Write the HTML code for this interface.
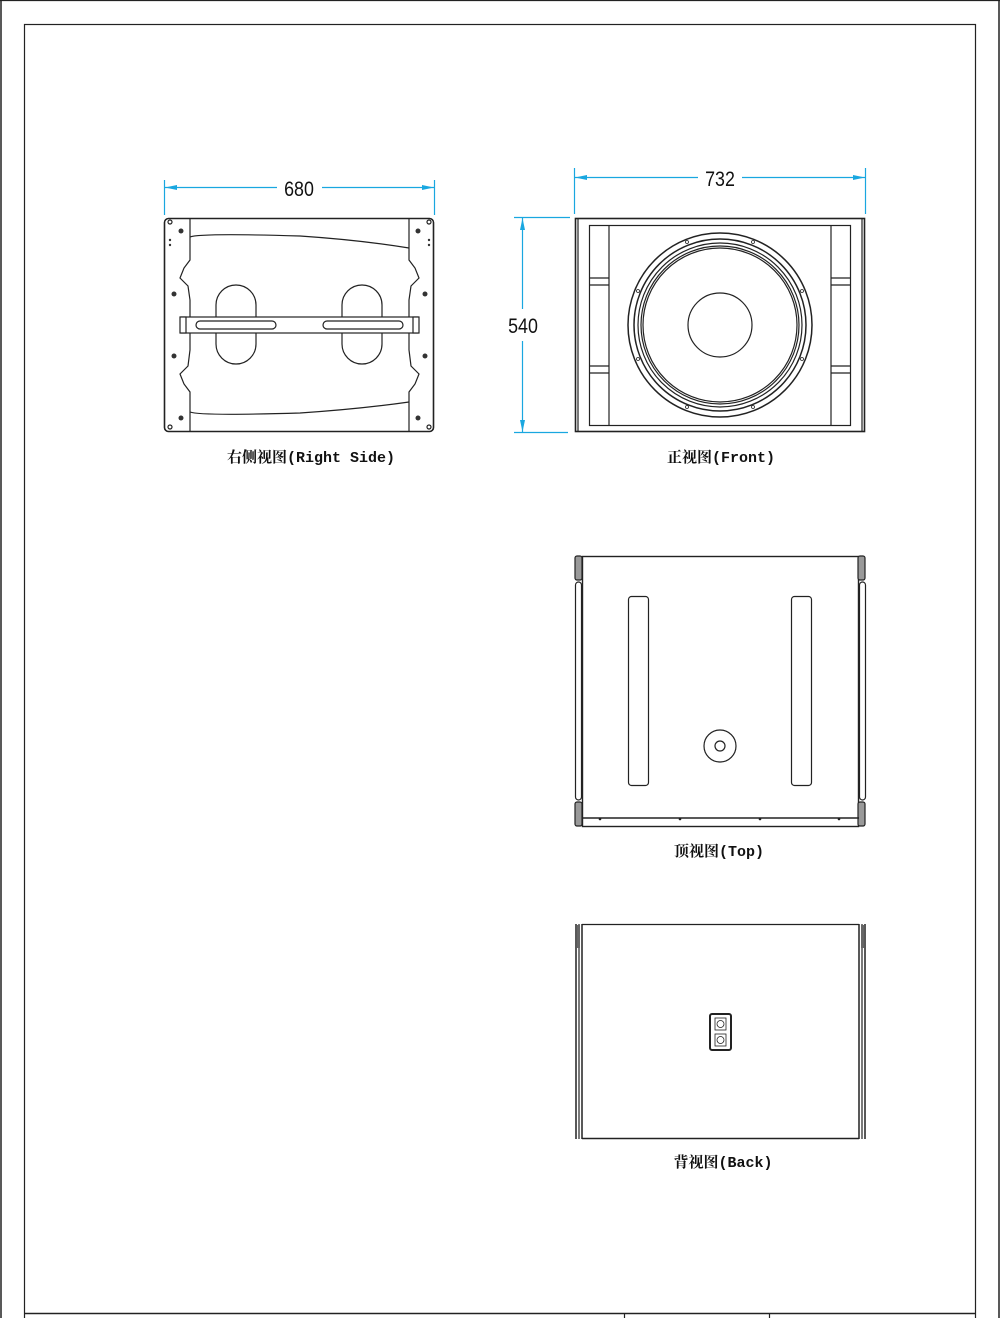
<!DOCTYPE html>
<html><head><meta charset="utf-8"><style>
html,body{margin:0;padding:0;background:#fff}
svg{display:block}
.l{font-family:"Liberation Mono","Noto Serif CJK SC",monospace;font-weight:bold;font-size:15px;fill:#111}
.d{font-family:"Liberation Sans",sans-serif;font-size:21px;fill:#111}
</style></head><body>
<svg width="1000" height="1318" viewBox="0 0 1000 1318" xmlns="http://www.w3.org/2000/svg">
<g fill="none" stroke="#222" stroke-width="1.2">
<line x1="0" y1="0.5" x2="1000" y2="0.5" stroke-width="1.2"/>
<line x1="1" y1="0" x2="1" y2="1318" stroke-width="1.5"/>
<line x1="999" y1="0" x2="999" y2="1318" stroke-width="1.5"/>
<rect x="24.5" y="24.5" width="951" height="1300" stroke-width="1.2"/>
<line x1="24" y1="1313.5" x2="976" y2="1313.5" stroke-width="1.5"/>
<line x1="624.5" y1="1313" x2="624.5" y2="1318"/>
<line x1="769.5" y1="1313" x2="769.5" y2="1318"/>

<!-- RIGHT SIDE -->
<rect x="164.5" y="218.5" width="269" height="213" rx="4" stroke-width="1.6"/>
<path d="M190 219 L190 260 L184 268 L180 278 L188 286 L190 300 L190 350 L188 366 L180 374 L184 384 L190 392 L190 431"/>
<path d="M409 219 L409 260 L415 268 L419 278 L411 286 L409 300 L409 350 L411 366 L419 374 L415 384 L409 392 L409 431"/>
<path d="M190 237 Q200 233 300 236 Q360 240 409 248"/>
<path d="M190 412 Q200 416 300 413 Q360 409 409 402"/>
<rect x="216" y="285" width="40" height="79" rx="20"/>
<rect x="342" y="285" width="40" height="79" rx="20"/>
<rect x="181" y="317" width="237" height="16" fill="#fff"/>
<rect x="196" y="321" width="80" height="8" rx="4"/>
<rect x="323" y="321" width="80" height="8" rx="4"/>
<rect x="180" y="317" width="6" height="16" fill="#fff"/>
<rect x="413" y="317" width="6" height="16" fill="#fff"/>
<g fill="#333" stroke="none">
<circle cx="181" cy="231" r="2.5"/><circle cx="418" cy="231" r="2.5"/>
<circle cx="174" cy="294" r="2.5"/><circle cx="425" cy="294" r="2.5"/>
<circle cx="174" cy="356" r="2.5"/><circle cx="425" cy="356" r="2.5"/>
<circle cx="181" cy="418" r="2.5"/><circle cx="418" cy="418" r="2.5"/>
<circle cx="170" cy="240" r="1.2"/><circle cx="170" cy="245" r="1.2"/>
<circle cx="429" cy="240" r="1.2"/><circle cx="429" cy="245" r="1.2"/>
</g>
<circle cx="170" cy="222" r="2"/><circle cx="429" cy="222" r="2"/>
<circle cx="170" cy="427" r="2"/><circle cx="429" cy="427" r="2"/>

<!-- FRONT -->
<rect x="575.5" y="218.5" width="289" height="213" stroke-width="1.6"/>
<line x1="578" y1="219" x2="578" y2="431"/><line x1="862" y1="219" x2="862" y2="431"/>
<rect x="589.5" y="225.5" width="261" height="200"/>
<line x1="609" y1="226" x2="609" y2="425"/><line x1="831" y1="226" x2="831" y2="425"/>
<line x1="589" y1="278" x2="609" y2="278"/><line x1="589" y1="285" x2="609" y2="285"/>
<line x1="589" y1="366" x2="609" y2="366"/><line x1="589" y1="373" x2="609" y2="373"/>
<line x1="831" y1="278" x2="851" y2="278"/><line x1="831" y1="285" x2="851" y2="285"/>
<line x1="831" y1="366" x2="851" y2="366"/><line x1="831" y1="373" x2="851" y2="373"/>
<circle cx="720" cy="325" r="92" stroke-width="1.5"/>
<circle cx="720" cy="325" r="86" stroke-width="1.5"/>
<circle cx="720" cy="325" r="82"/>
<circle cx="720" cy="325" r="79"/>
<circle cx="720" cy="325" r="77"/>
<circle cx="720" cy="325" r="32"/>
<g stroke-width="0.8">
<circle cx="687" cy="242" r="1.5"/><circle cx="753" cy="242" r="1.5"/>
<circle cx="638" cy="291" r="1.5"/><circle cx="802" cy="291" r="1.5"/>
<circle cx="638" cy="359" r="1.5"/><circle cx="802" cy="359" r="1.5"/>
<circle cx="687" cy="407" r="1.5"/><circle cx="753" cy="407" r="1.5"/>
</g>

<!-- TOP -->
<rect x="582.5" y="556.5" width="276" height="270" stroke-width="1.4"/>
<rect x="575" y="556" width="7" height="24" rx="2" fill="#999"/>
<rect x="858" y="556" width="7" height="24" rx="2" fill="#999"/>
<rect x="575" y="802" width="7" height="24" rx="2" fill="#999"/>
<rect x="858" y="802" width="7" height="24" rx="2" fill="#999"/>
<rect x="575.5" y="582" width="6" height="218" rx="3"/>
<rect x="859.5" y="582" width="6" height="218" rx="3"/>
<line x1="582" y1="818" x2="859" y2="818" stroke-width="1.5"/>
<rect x="628.5" y="596.5" width="20" height="189" rx="3"/>
<rect x="791.5" y="596.5" width="20" height="189" rx="3"/>
<circle cx="720" cy="746" r="16"/><circle cx="720" cy="746" r="5"/>
<g fill="#222" stroke="none"><circle cx="600" cy="819" r="1.3"/><circle cx="680" cy="819" r="1.3"/><circle cx="760" cy="819" r="1.3"/><circle cx="839" cy="819" r="1.3"/></g>

<!-- BACK -->
<line x1="582" y1="924.5" x2="859" y2="924.5"/>
<line x1="582" y1="1138.5" x2="859" y2="1138.5" stroke-width="1.5"/>
<line x1="576" y1="924" x2="576" y2="1139" stroke-width="1.5"/>
<line x1="579" y1="924" x2="579" y2="1139"/>
<line x1="582" y1="924" x2="582" y2="1139" stroke-width="1.5"/>
<line x1="859" y1="924" x2="859" y2="1139" stroke-width="1.5"/>
<line x1="862" y1="924" x2="862" y2="1139"/>
<line x1="865" y1="924" x2="865" y2="1139" stroke-width="1.5"/>
<rect x="577" y="925" width="3" height="23" fill="#666" stroke="none"/>
<rect x="861" y="925" width="3" height="23" fill="#666" stroke="none"/>
<rect x="710" y="1014" width="21" height="36" rx="2" stroke-width="2"/>
<rect x="715" y="1018" width="11" height="12" stroke-width="0.8"/><circle cx="720.5" cy="1024" r="3.5" stroke-width="0.8"/>
<rect x="715" y="1034" width="11" height="12" stroke-width="0.8"/><circle cx="720.5" cy="1040" r="3.5" stroke-width="0.8"/>
</g>

<!-- DIMENSIONS -->
<g stroke="#19a7e0" stroke-width="1.2" fill="#19a7e0">
<line x1="164.5" y1="180" x2="164.5" y2="215"/>
<line x1="434.5" y1="180" x2="434.5" y2="215"/>
<line x1="165" y1="187.5" x2="277" y2="187.5"/>
<line x1="322" y1="187.5" x2="434" y2="187.5"/>
<path d="M165 187.5 L177 185 L177 190 Z" stroke="none"/>
<path d="M434 187.5 L422 185 L422 190 Z" stroke="none"/>
<line x1="574.5" y1="168" x2="574.5" y2="214"/>
<line x1="865.5" y1="168" x2="865.5" y2="214"/>
<line x1="575" y1="177.5" x2="698" y2="177.5"/>
<line x1="742" y1="177.5" x2="865" y2="177.5"/>
<path d="M575 177.5 L587 175 L587 180 Z" stroke="none"/>
<path d="M865 177.5 L853 175 L853 180 Z" stroke="none"/>
<line x1="514" y1="217.5" x2="570" y2="217.5"/>
<line x1="514" y1="432.5" x2="568" y2="432.5"/>
<line x1="522.5" y1="218" x2="522.5" y2="309"/>
<line x1="522.5" y1="341" x2="522.5" y2="432"/>
<path d="M522.5 218 L520 230 L525 230 Z" stroke="none"/>
<path d="M522.5 432 L520 420 L525 420 Z" stroke="none"/>
</g>
<text class="d" x="299" y="196" text-anchor="middle" transform="translate(299 0) scale(0.85 1) translate(-299 0)">680</text>
<text class="d" x="720" y="186" text-anchor="middle" transform="translate(720 0) scale(0.85 1) translate(-720 0)">732</text>
<text class="d" x="523" y="333" text-anchor="middle" transform="translate(523 0) scale(0.85 1) translate(-523 0)">540</text>

<text class="l" x="311" y="462" text-anchor="middle">右侧视图(Right Side)</text>
<text class="l" x="721" y="462" text-anchor="middle">正视图(Front)</text>
<text class="l" x="719" y="856" text-anchor="middle">顶视图(Top)</text>
<text class="l" x="723" y="1167" text-anchor="middle">背视图(Back)</text>
</svg>
</body></html>
